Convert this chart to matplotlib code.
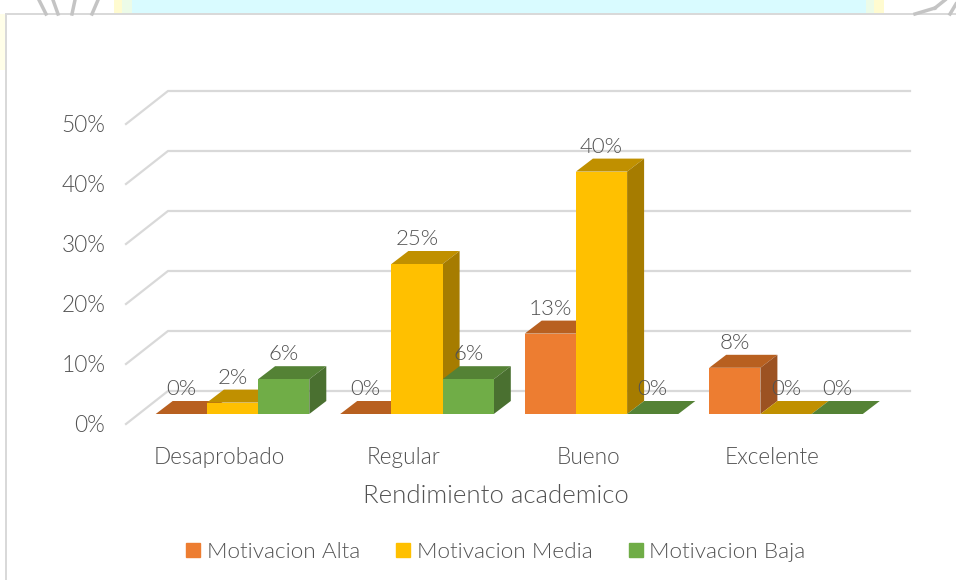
import matplotlib
matplotlib.use("Agg")
import matplotlib.pyplot as plt
from matplotlib.patches import Polygon, Patch, Rectangle
from matplotlib.lines import Line2D

categories = ["Desaprobado", "Regular", "Bueno", "Excelente"]
series_names = ["Motivacion Alta", "Motivacion Media", "Motivacion Baja"]
alta = [0, 0, 13.4, 7.7]
media = [1.9, 25.0, 40.4, 0]
baja = [5.8, 5.8, 0, 0]
y_ticks = [0, 10, 20, 30, 40, 50]

front_colors = ["#ED7D31", "#FFC000", "#70AD47"]
top_colors = ["#B86020", "#C09000", "#548235"]
side_colors = ["#9C5222", "#A67C00", "#4A7030"]
TEXT = "#525252"
GRID = "#D9D9D9"

W, H = 956, 580
plt.rcParams["font.family"] = ["Lato", "DejaVu Sans"]
plt.rcParams["font.weight"] = 300
plt.rcParams["axes.labelweight"] = 300

fig = plt.figure(figsize=(W / 100, H / 100), dpi=100, facecolor="white")

def fig_rect(x0, y0, x1, y1, **kw):
    fig.patches.append(Rectangle((x0 / W, 1 - y1 / H), (x1 - x0) / W, (y1 - y0) / H,
                                 transform=fig.transFigure, lw=0, **kw))

def fig_stroke(x0, y0, x1, y1, **kw):
    fig.add_artist(Line2D([x0 / W, x1 / W], [1 - y0 / H, 1 - y1 / H],
                          transform=fig.transFigure, **kw))

# page background visible around the chart frame
fig_rect(0, 0, W, 14, color="white")
fig_rect(132, 0, 866, 14, color="#D9FBFF")
fig_rect(114, 0, 122, 14, color="#FFFBD0")
fig_rect(122, 0, 132, 14, color="#ECFBE8")
fig_rect(866, 0, 874, 14, color="#ECFBE8")
fig_rect(874, 0, 884, 14, color="#FFFBD0")
fig_rect(0, 14, 5, 70, color="#FFFEE8")
for seg in [(39, 0, 46, 14), (53, 0, 58, 14), (75, 0, 72, 14), (98, 0, 92, 14),
            (915, 14, 935, 8), (935, 8, 945, 0), (950, 14, 956, 4)]:
    fig_stroke(*seg, color="#C4C4C4", lw=2.5)
# chart frame
fig_rect(5, 14, 7, H, color=GRID)
fig_rect(5, 13, W, 15, color=GRID)

# axes: x=0 is the first category label, y=0 is the front floor edge
PX_PER_CAT = 184.5
PX_PER_PCT = 6.0
L, R, B, T = 126, 910, 424, 91
ax = fig.add_axes([L / W, 1 - B / H, (R - L) / W, (B - T) / H])
ax.set_xlim((L - 219) / PX_PER_CAT, (R - 219) / PX_PER_CAT)
ax.set_ylim(0, (B - T) / PX_PER_PCT)
ax.patch.set_alpha(0)
for s in ax.spines.values():
    s.set_visible(False)

back_dx = 42 / PX_PER_CAT
back_dy = 33 / PX_PER_PCT
x_left, x_right = ax.get_xlim()
for v in y_ticks:
    ax.plot([x_left, x_left + back_dx, x_right], [v, v + back_dy, v + back_dy],
            color=GRID, lw=1.6, clip_on=False, zorder=1, solid_joinstyle="miter")

bar_w = 51.2 / PX_PER_CAT
dx = 17 / PX_PER_CAT
dy = 13 / PX_PER_PCT
floor = 10 / PX_PER_PCT
shift = 13.5 / PX_PER_CAT

z = 2
values = [alta, media, baja]
for i in range(len(categories)):
    for k in range(len(series_names)):
        v = values[k][i]
        xc = i + shift + (k - 1) * bar_w
        x0, x1 = xc - bar_w / 2, xc + bar_w / 2
        y0, y1 = floor, floor + v
        ax.add_patch(Polygon([(x0, y1), (x1, y1), (x1 + dx, y1 + dy), (x0 + dx, y1 + dy)],
                             closed=True, fc=top_colors[k], ec="none", zorder=z))
        ax.add_patch(Polygon([(x1, y0), (x1 + dx, y0 + dy), (x1 + dx, y1 + dy), (x1, y1)],
                             closed=True, fc=side_colors[k], ec="none", zorder=z))
        ax.bar(xc, v, width=bar_w, bottom=floor, color=front_colors[k], zorder=z, lw=0)
        z += 0.01
for i in range(len(categories)):
    for k in range(len(series_names)):
        v = values[k][i]
        xc = i + shift + (k - 1) * bar_w
        ax.annotate(f"{round(v)}%", (xc, floor + v), xytext=(0, 18), textcoords="offset points",
                    ha="center", va="center", fontsize=16, color=TEXT, zorder=10)

ax.set_yticks(y_ticks, [f"{v}%" for v in y_ticks])
ax.set_xticks(range(len(categories)), categories)
ax.tick_params(axis="both", length=0, labelsize=16.3, labelcolor=TEXT)
ax.tick_params(axis="y", pad=15)
ax.tick_params(axis="x", pad=16.5)
ax.set_xlabel("Rendimiento academico", fontsize=18.5, color=TEXT)
ax.xaxis.set_label_coords((496 - L) / (R - L), -(484 - B) / (B - T))

handles = [Patch(color=c, label=n) for c, n in zip(front_colors, series_names)]
fig.legend(handles=handles, loc="center", bbox_to_anchor=(496 / W, 1 - 552 / H), ncol=3,
           frameon=False, fontsize=16.2, labelcolor=TEXT, handlelength=0.62, handleheight=0.62,
           handletextpad=0.3, columnspacing=1.6)

fig.savefig("out.png", dpi=100)
